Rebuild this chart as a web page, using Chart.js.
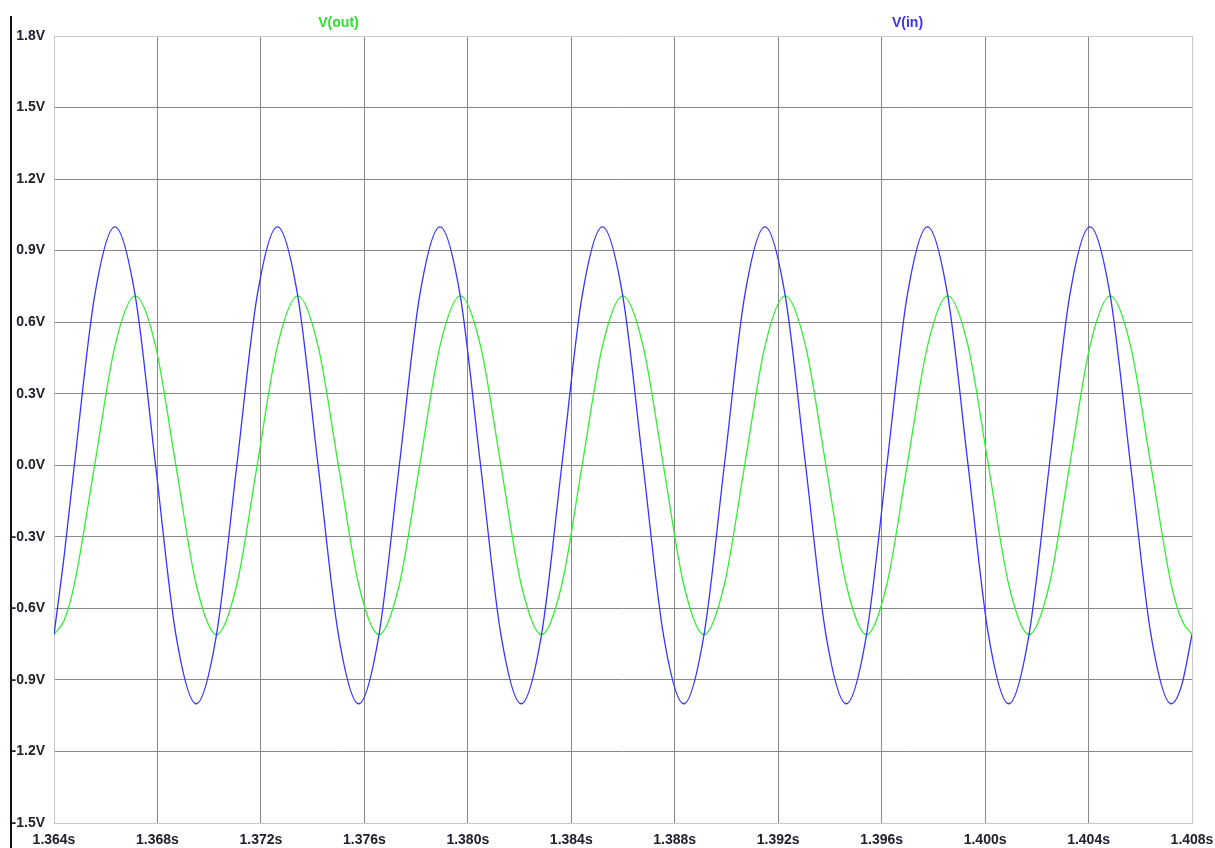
<!DOCTYPE html>
<html>
<head>
<meta charset="utf-8">
<title>V(in) / V(out)</title>
<script src="https://cdn.jsdelivr.net/npm/chart.js@4.4.1/dist/chart.umd.min.js"></script>
<style>
  body { margin: 0; background: #fff; }
  canvas { display: block; }
</style>
</head>
<body>
<canvas id="grafica" width="1215" height="848"></canvas>
<script>
// sample times (s), read about every 1/8 period off the plot (extra point near each end)
var tiempos = [
  1.364000, 1.364393, 1.364785, 1.365571, 1.366356, 1.367142, 1.367927, 1.368712, 1.369498,
  1.370283, 1.371069, 1.371854, 1.372639, 1.373425, 1.374210, 1.374996, 1.375781,
  1.376566, 1.377352, 1.378137, 1.378923, 1.379708, 1.380493, 1.381279, 1.382064,
  1.382850, 1.383635, 1.384420, 1.385206, 1.385991, 1.386777, 1.387562, 1.388347,
  1.389133, 1.389918, 1.390704, 1.391489, 1.392274, 1.393060, 1.393845, 1.394631,
  1.395416, 1.396201, 1.396987, 1.397772, 1.398558, 1.399343, 1.400128, 1.400914,
  1.401699, 1.402485, 1.403270, 1.404055, 1.404841, 1.405626, 1.406412, 1.407197,
  1.407607, 1.408000
];

var vIn = [
  -0.71, -0.38, 0, 0.71, 1.0, 0.71, 0, -0.71, -1.0,
  -0.71, 0, 0.71, 1.0, 0.71, 0, -0.71, -1.0,
  -0.71, 0, 0.71, 1.0, 0.71, 0, -0.71, -1.0,
  -0.71, 0, 0.71, 1.0, 0.71, 0, -0.71, -1.0,
  -0.71, 0, 0.71, 1.0, 0.71, 0, -0.71, -1.0,
  -0.71, 0, 0.71, 1.0, 0.71, 0, -0.71, -1.0,
  -0.71, 0, 0.71, 1.0, 0.71, 0, -0.71, -1.0,
  -0.92, -0.71
];

var vOut = [
  -0.71, -0.65, -0.5, 0, 0.5, 0.71, 0.5, 0, -0.5,
  -0.71, -0.5, 0, 0.5, 0.71, 0.5, 0, -0.5,
  -0.71, -0.5, 0, 0.5, 0.71, 0.5, 0, -0.5,
  -0.71, -0.5, 0, 0.5, 0.71, 0.5, 0, -0.5,
  -0.71, -0.5, 0, 0.5, 0.71, 0.5, 0, -0.5,
  -0.71, -0.5, 0, 0.5, 0.71, 0.5, 0, -0.5,
  -0.71, -0.5, 0, 0.5, 0.71, 0.5, 0, -0.5,
  -0.65, -0.71
];

var ticksX = [1.364, 1.368, 1.372, 1.376, 1.380, 1.384, 1.388, 1.392, 1.396, 1.400, 1.404, 1.408];
var ticksY = [-1.5, -1.2, -0.9, -0.6, -0.3, 0.0, 0.3, 0.6, 0.9, 1.2, 1.5, 1.8];

function puntos(valores) {
  var res = [];
  for (var i = 0; i < tiempos.length; i++) {
    res.push({ x: tiempos[i], y: valores[i] });
  }
  return res;
}

var fuente = { family: "'Liberation Sans', Arial, sans-serif", size: 14, weight: 'bold' };

function colorRejilla(ctx) {
  var n = ctx.scale.ticks.length;
  return (ctx.index === 0 || ctx.index === n - 1) ? '#c8c8c8' : '#888888';
}

// trace names above the plot + black bar on the left
var decoracion = {
  id: 'decoracion',
  afterDraw: function(chart) {
    var ctx = chart.ctx;
    var area = chart.chartArea;
    ctx.save();
    ctx.fillStyle = '#111111';
    ctx.fillRect(10, 16, 2, chart.height - 16);
    ctx.font = "bold 14px 'Liberation Sans', Arial, sans-serif";
    ctx.textAlign = 'center';
    ctx.textBaseline = 'middle';
    var nombres = [
      { texto: 'V(out)', color: '#2ee02e', pos: 0.25 },
      { texto: 'V(in)', color: '#3c32f0', pos: 0.75 }
    ];
    nombres.forEach(function(n) {
      ctx.fillStyle = n.color;
      ctx.fillText(n.texto, area.left + (area.right - area.left) * n.pos, area.top - 13);
    });
    ctx.restore();
  }
};

window.onload = function() {
  var ctx = document.getElementById('grafica').getContext('2d');
  var myChart = new Chart(ctx, {
    type: 'line',
    data: {
      datasets: [{
        label: 'V(in)',
        borderColor: '#3535ff',
        data: puntos(vIn)
      }, {
        label: 'V(out)',
        borderColor: '#33ee33',
        data: puntos(vOut)
      }]
    },
    options: {
      responsive: false,
      animation: false,
      devicePixelRatio: 1,
      layout: { padding: { left: 0, right: 23, top: 36, bottom: 0 } },
      elements: {
        line: { borderWidth: 1.3, cubicInterpolationMode: 'monotone', fill: false },
        point: { radius: 0 }
      },
      plugins: {
        legend: { display: false },
        tooltip: { enabled: false }
      },
      scales: {
        x: {
          type: 'linear',
          min: 1.364,
          max: 1.408,
          afterBuildTicks: function(axis) {
            axis.ticks = ticksX.map(function(v) { return { value: v }; });
          },
          afterFit: function(axis) {
            axis.height = 25;
            axis.paddingLeft = 0;
            axis.paddingRight = 0;
          },
          grid: { color: colorRejilla, drawTicks: false },
          border: { color: '#c8c8c8' },
          ticks: {
            font: fuente,
            color: '#20202e',
            padding: 9,
            maxRotation: 0,
            autoSkip: false,
            callback: function(v) { return v.toFixed(3) + 's'; }
          }
        },
        y: {
          min: -1.5,
          max: 1.8,
          afterBuildTicks: function(axis) {
            axis.ticks = ticksY.map(function(v) { return { value: v }; });
          },
          afterFit: function(axis) {
            axis.width = 54;
            axis.paddingTop = 0;
            axis.paddingBottom = 0;
          },
          grid: { color: colorRejilla, drawTicks: false },
          border: { color: '#c8c8c8' },
          ticks: {
            font: fuente,
            color: '#20202e',
            padding: 9,
            callback: function(v) { return v.toFixed(1) + 'V'; }
          }
        }
      }
    },
    plugins: [decoracion]
  });
};
</script>
</body>
</html>
